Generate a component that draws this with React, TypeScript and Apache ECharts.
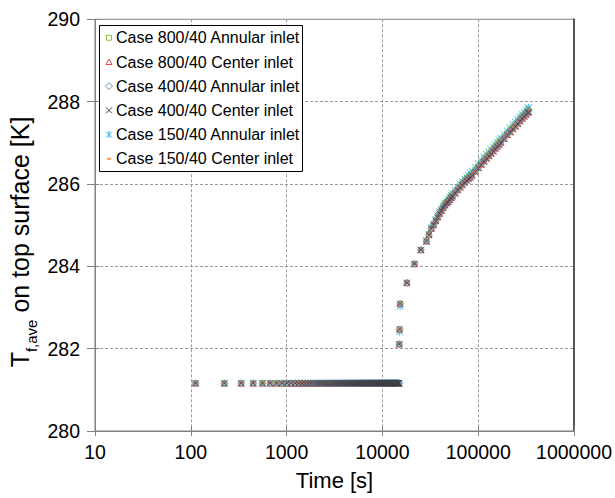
import React, { useEffect, useRef } from 'react';
import * as echarts from 'echarts';

const FONT = 'Liberation Sans, Arial, sans-serif';

const X_TICKS = [10, 100, 1000, 10000, 100000, 1000000];
const Y_TICKS = [280, 282, 284, 286, 288, 290];

const SERIES_NAMES = [
  'Case 800/40 Annular inlet',
  'Case 800/40 Center inlet',
  'Case 400/40 Annular inlet',
  'Case 400/40 Center inlet',
  'Case 150/40 Annular inlet',
  'Case 150/40 Center inlet',
];
const SERIES_COLORS = ['#8DC63F', '#E0474C', '#6C8EBF', '#404040', '#1FB3E8', '#F79646'];
const SERIES_Z = [4, 5, 6, 7, 3, 2];

// flat (initial) period: every output time step
const FLAT_TIMES = [
  112, 224, 336, 448, 560, 672, 784, 896, 1008, 1120,
  1232, 1344, 1456, 1568, 1680, 1792, 1904, 2016, 2128, 2240,
  2352, 2464, 2576, 2688, 2800, 2912, 3024, 3136, 3248, 3360,
  3472, 3584, 3696, 3808, 3920, 4032, 4144, 4256, 4368, 4480,
  4592, 4704, 4816, 4928, 5040, 5152, 5264, 5376, 5488, 5600,
  5712, 5824, 5936, 6048, 6160, 6272, 6384, 6496, 6608, 6720,
  6832, 6944, 7056, 7168, 7280, 7392, 7504, 7616, 7728, 7840,
  7952, 8064, 8176, 8288, 8400, 8512, 8624, 8736, 8848, 8960,
  9072, 9184, 9296, 9408, 9520, 9632, 9744, 9856, 9968, 10080,
  10192, 10304, 10416, 10528, 10640, 10752, 10864, 10976, 11088, 11200,
  11312, 11424, 11536, 11648, 11760, 11872, 11984, 12096, 12208, 12320,
  12432, 12544, 12656, 12768, 12880, 12992, 13104, 13216, 13328, 13440,
  13552, 13664, 13776, 13888, 14000, 14112, 14224, 14336, 14448, 14560,
  14672, 14784, 14896,
];
const FLAT_TEMP = 281.16;

// heating period
const RISE_TIMES = [
  15000, 15100, 15300, 18000, 21600, 25200, 28800, 30600, 32400, 34200,
  36000, 37800, 39600, 41400, 43200, 45000, 46800, 48600, 50400, 52200,
  54000, 57600, 61200, 64800, 68400, 72000, 75600, 79200, 82800, 86400,
  93600, 100800, 108000, 115200, 122400, 129600, 136800, 144000, 151200, 158400,
  165600, 172800, 187200, 201600, 216000, 230400, 244800, 259200, 273600, 288000,
  302400, 316800, 331200, 334800,
];

const T_800_ANNULAR = [
  282.11, 282.47, 283.09, 283.60, 284.06, 284.40, 284.62, 284.78, 284.93, 285.02,
  285.12, 285.22, 285.31, 285.38, 285.45, 285.51, 285.56, 285.60, 285.65, 285.70,
  285.74, 285.81, 285.89, 285.96, 286.02, 286.08, 286.13, 286.17, 286.21, 286.26,
  286.35, 286.44, 286.52, 286.60, 286.67, 286.73, 286.79, 286.85, 286.91, 286.96,
  287.01, 287.06, 287.15, 287.24, 287.31, 287.39, 287.45, 287.52, 287.58, 287.64,
  287.69, 287.74, 287.79, 287.80,
];
const T_800_CENTER = [
  282.11, 282.47, 283.09, 283.60, 284.06, 284.40, 284.61, 284.77, 284.92, 285.01,
  285.11, 285.20, 285.29, 285.36, 285.43, 285.49, 285.54, 285.57, 285.62, 285.67,
  285.71, 285.78, 285.86, 285.93, 285.99, 286.05, 286.10, 286.14, 286.17, 286.22,
  286.31, 286.40, 286.48, 286.56, 286.63, 286.69, 286.75, 286.81, 286.87, 286.92,
  286.97, 287.02, 287.11, 287.20, 287.27, 287.35, 287.41, 287.48, 287.54, 287.60,
  287.65, 287.70, 287.75, 287.76,
];
const T_400_ANNULAR = [
  282.11, 282.47, 283.09, 283.60, 284.06, 284.40, 284.61, 284.77, 284.92, 285.01,
  285.11, 285.21, 285.30, 285.37, 285.44, 285.50, 285.55, 285.59, 285.64, 285.69,
  285.73, 285.80, 285.88, 285.94, 286.00, 286.06, 286.11, 286.15, 286.19, 286.24,
  286.33, 286.42, 286.50, 286.58, 286.65, 286.71, 286.77, 286.83, 286.89, 286.94,
  286.99, 287.04, 287.13, 287.22, 287.29, 287.37, 287.43, 287.50, 287.56, 287.62,
  287.67, 287.72, 287.77, 287.78,
];
const T_400_CENTER = [
  282.11, 282.47, 283.09, 283.60, 284.06, 284.40, 284.60, 284.76, 284.91, 285.00,
  285.10, 285.19, 285.28, 285.35, 285.42, 285.48, 285.53, 285.56, 285.61, 285.66,
  285.70, 285.77, 285.85, 285.91, 285.97, 286.03, 286.08, 286.12, 286.15, 286.20,
  286.29, 286.38, 286.46, 286.54, 286.61, 286.67, 286.73, 286.79, 286.85, 286.90,
  286.95, 287.00, 287.09, 287.18, 287.25, 287.33, 287.39, 287.46, 287.52, 287.58,
  287.63, 287.68, 287.73, 287.74,
];
const T_150_ANNULAR = [
  282.11, 282.40, 283.02, 283.60, 284.06, 284.40, 284.64, 284.80, 284.95, 285.04,
  285.14, 285.25, 285.34, 285.41, 285.48, 285.54, 285.59, 285.64, 285.69, 285.74,
  285.78, 285.85, 285.93, 286.01, 286.07, 286.13, 286.18, 286.22, 286.27, 286.32,
  286.41, 286.50, 286.58, 286.66, 286.73, 286.79, 286.85, 286.91, 286.97, 287.02,
  287.07, 287.12, 287.21, 287.30, 287.37, 287.45, 287.51, 287.58, 287.64, 287.70,
  287.75, 287.80, 287.85, 287.86,
];
const T_150_CENTER = [
  282.11, 282.47, 283.09, 283.60, 284.06, 284.40, 284.63, 284.79, 284.94, 285.03,
  285.13, 285.23, 285.32, 285.39, 285.46, 285.52, 285.57, 285.61, 285.66, 285.71,
  285.75, 285.82, 285.90, 285.98, 286.04, 286.10, 286.15, 286.19, 286.23, 286.28,
  286.37, 286.46, 286.54, 286.62, 286.69, 286.75, 286.81, 286.87, 286.93, 286.98,
  287.03, 287.08, 287.17, 287.26, 287.33, 287.41, 287.47, 287.54, 287.60, 287.66,
  287.71, 287.76, 287.81, 287.82,
];

const SERIES_VALUES = [T_800_ANNULAR, T_800_CENTER, T_400_ANNULAR, T_400_CENTER, T_150_ANNULAR, T_150_CENTER];

const SYMBOLS: any[] = [
  { symbol: 'rect', size: 5, fill: false },
  { symbol: 'triangle', size: 6, fill: false },
  { symbol: 'diamond', size: 7, fill: false },
  { symbol: 'path://M0,0L10,10M10,0L0,10', size: 6, fill: false },
  { symbol: 'path://M5,0L5,10M1,1L9,9M9,1L1,9', size: 7, fill: false },
  { symbol: 'rect', size: [5, 2], fill: true },
];

function buildData(vals: number[]) {
  const flat = FLAT_TIMES.map((t) => [t, FLAT_TEMP]);
  const rise = RISE_TIMES.map((t, i) => [t, vals[i]]);
  return flat.concat(rise);
}

function legendGraphic() {
  const boxX = 99, boxY = 25, boxW = 203, boxH = 146;
  const els: any[] = [
    { type: 'rect', shape: { x: boxX + 0.5, y: boxY + 0.5, width: boxW, height: boxH }, style: { fill: '#fff', stroke: '#000', lineWidth: 1 }, z: 100 },
  ];
  const mx = 109;
  SERIES_NAMES.forEach((name, i) => {
    const cy = 37.8 + 24.2 * i;
    const c = SERIES_COLORS[i];
    const st = { fill: 'none', stroke: c, lineWidth: 1 };
    if (i === 0) els.push({ type: 'rect', shape: { x: mx - 2.5, y: cy - 2.5, width: 5, height: 5 }, style: st, z: 101 });
    if (i === 1) els.push({ type: 'polygon', shape: { points: [[mx, cy - 3], [mx + 3, cy + 2.5], [mx - 3, cy + 2.5]] }, style: st, z: 101 });
    if (i === 2) els.push({ type: 'polygon', shape: { points: [[mx, cy - 3.5], [mx + 3.5, cy], [mx, cy + 3.5], [mx - 3.5, cy]] }, style: st, z: 101 });
    if (i === 3) {
      els.push({ type: 'line', shape: { x1: mx - 3, y1: cy - 3, x2: mx + 3, y2: cy + 3 }, style: st, z: 101 });
      els.push({ type: 'line', shape: { x1: mx + 3, y1: cy - 3, x2: mx - 3, y2: cy + 3 }, style: st, z: 101 });
    }
    if (i === 4) {
      els.push({ type: 'line', shape: { x1: mx, y1: cy - 3.5, x2: mx, y2: cy + 3.5 }, style: st, z: 101 });
      els.push({ type: 'line', shape: { x1: mx - 3, y1: cy - 3, x2: mx + 3, y2: cy + 3 }, style: st, z: 101 });
      els.push({ type: 'line', shape: { x1: mx + 3, y1: cy - 3, x2: mx - 3, y2: cy + 3 }, style: st, z: 101 });
    }
    if (i === 5) els.push({ type: 'rect', shape: { x: mx - 2, y: cy - 1, width: 4, height: 2 }, style: { fill: c }, z: 101 });
    els.push({
      type: 'text', x: 116, y: cy, z: 101,
      style: { text: name, fill: '#000', font: `16px ${FONT}`, textVerticalAlign: 'middle', textAlign: 'left' },
    });
  });
  // rotated y-axis title
  els.push({
    type: 'text', x: 23, y: 242, rotation: Math.PI / 2, z: 101,
    style: {
      text: '{a|T}{b|f,ave}{a| on top surface [K]}',
      textAlign: 'center', textVerticalAlign: 'middle',
      rich: {
        a: { fontSize: 25, fontFamily: FONT, fill: '#000', lineHeight: 32, verticalAlign: 'top' },
        b: { fontSize: 15, fontFamily: FONT, fill: '#000', lineHeight: 15, verticalAlign: 'bottom' },
      },
    },
  });
  return els;
}

export default function App() {
  const ref = useRef<HTMLDivElement>(null);
  useEffect(() => {
    const chart = echarts.init(ref.current!, null, { renderer: 'svg' });
    const axisColor = '#808080';
    const split = { show: true, lineStyle: { color: '#9a9a9a', type: [3, 2], width: 1 } };
    const option: any = {
      animation: false,
      backgroundColor: '#fff',
      grid: { left: 95, right: 39.5, top: 19.3, bottom: 67, show: true, borderColor: axisColor, borderWidth: 1 },
      xAxis: [
        {
          type: 'log', logBase: 10, min: X_TICKS[0], max: X_TICKS[X_TICKS.length - 1], position: 'bottom',
          axisLine: { show: true, lineStyle: { color: axisColor, width: 1 } },
          axisTick: { show: true, inside: false, length: 5, lineStyle: { color: axisColor } },
          axisLabel: { fontSize: 19.5, color: '#000', fontFamily: FONT, margin: 11, formatter: (v: number) => String(Math.round(v)) },
          splitLine: split,
          name: 'Time [s]', nameLocation: 'middle', nameGap: 38,
          nameTextStyle: { fontSize: 22, color: '#000', fontFamily: FONT },
        },
        {
          type: 'log', logBase: 10, min: X_TICKS[0], max: X_TICKS[X_TICKS.length - 1], position: 'bottom',
          axisLine: { show: false },
          axisTick: { show: true, inside: true, length: 5, lineStyle: { color: axisColor } },
          axisLabel: { show: false }, splitLine: { show: false },
        },
      ],
      yAxis: [
        {
          type: 'value', min: Y_TICKS[0], max: Y_TICKS[Y_TICKS.length - 1], interval: 2, position: 'left',
          axisLine: { show: true, lineStyle: { color: axisColor, width: 1 } },
          axisTick: { show: true, inside: false, length: 8, lineStyle: { color: axisColor } },
          axisLabel: { fontSize: 19.5, color: '#000', fontFamily: FONT, margin: 15 },
          splitLine: split,
        },
        {
          type: 'value', min: Y_TICKS[0], max: Y_TICKS[Y_TICKS.length - 1], interval: 2, position: 'left',
          axisLine: { show: false },
          axisTick: { show: true, inside: true, length: 4, lineStyle: { color: axisColor } },
          axisLabel: { show: false }, splitLine: { show: false },
        },
        {
          type: 'value', min: Y_TICKS[0], max: Y_TICKS[Y_TICKS.length - 1], interval: 2, position: 'right',
          axisLine: { show: true, lineStyle: { color: '#555', width: 2 } },
          axisTick: { show: false }, axisLabel: { show: false }, splitLine: { show: false },
        },
      ],
      series: SERIES_NAMES.map((name, i) => ({
        type: 'scatter', name, xAxisIndex: 0, yAxisIndex: 0, silent: true,
        data: buildData(SERIES_VALUES[i]),
        symbol: SYMBOLS[i].symbol, symbolSize: SYMBOLS[i].size,
        itemStyle: SYMBOLS[i].fill
          ? { color: SERIES_COLORS[i] }
          : { color: 'rgba(0,0,0,0)', borderColor: SERIES_COLORS[i], borderWidth: 1 },
        z: SERIES_Z[i],
      })),
      graphic: legendGraphic(),
    };
    chart.setOption(option);
    return () => chart.dispose();
  }, []);
  return <div ref={ref} style={{ position: 'fixed', left: 0, top: 0, width: 615, height: 498, background: '#fff' }} />;
}
